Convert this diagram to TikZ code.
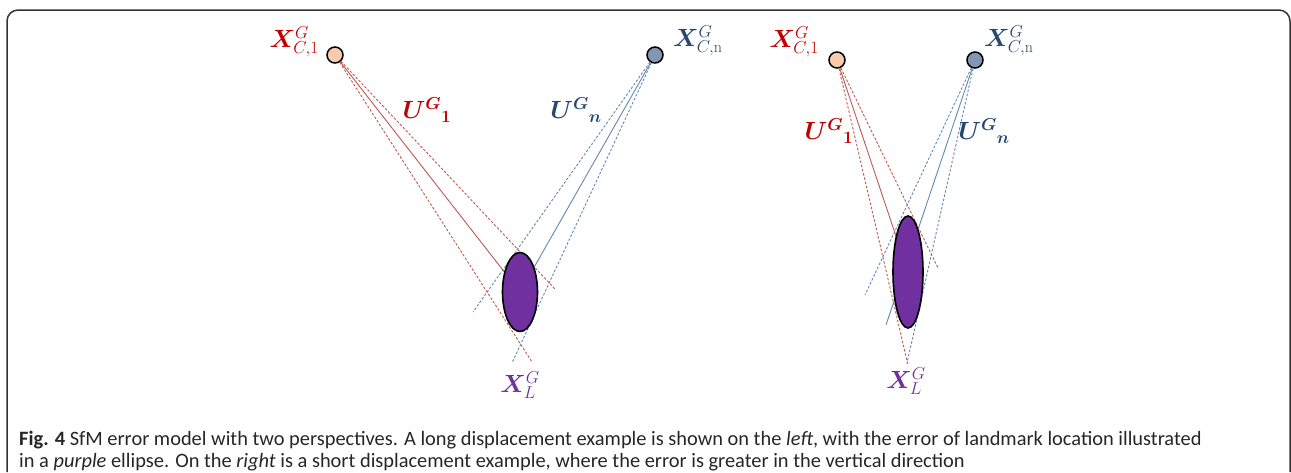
\documentclass[tikz,border=0pt]{standalone}
\usepackage{amsmath,amssymb}
\usepackage{bm}
\usepackage{fontspec}
\newfontfamily\capfont{Carlito}
\usetikzlibrary{shapes.geometric}
\definecolor{camred}{RGB}{192,0,0}
\definecolor{camblue}{RGB}{38,72,112}
\definecolor{lmpurple}{RGB}{112,48,160}
\definecolor{redray}{RGB}{192,88,80}
\definecolor{blueray}{RGB}{100,135,175}
\definecolor{peach}{RGB}{248,203,173}
\definecolor{slate}{RGB}{132,151,176}
\tikzset{
  camera/.style={circle, draw=black, line width=1.5pt, minimum size=16pt, inner sep=0pt},
  landmark/.style={ellipse, draw=black, line width=1.6pt, fill=lmpurple, inner sep=0pt},
  ray/.style={line width=0.9pt},
  dashray/.style={line width=0.9pt, dash pattern=on 2.5pt off 1.8pt},
  mathlabel/.style={font=\fontsize{23}{26}\selectfont, inner sep=0pt},
  caption/.style={font=\capfont\fontsize{20.4}{24}\selectfont, inner sep=0pt, text=black!85}
}

\begin{document}
\begin{tikzpicture}[x=1pt, y=-1pt]
    \useasboundingbox (0,0) rectangle (1291,472);

    % Frame
    \draw[line width=1.5pt, black!80, rounded corners=11pt] (7,472) -- (7,10) -- (1290,10) -- (1290,472);

    % Left: long displacement
    \node[camera, fill=peach] (camA1) at (335,55) {};
    \node[camera, fill=slate] (camAn) at (655,55) {};
    \coordinate (lmA) at (520,292);
    \coordinate (rdA1) at (532,362);
    \coordinate (rdA2) at (555,289);
    \coordinate (bdA1) at (473,312);
    \coordinate (bdA2) at (512,363);

    \draw[dashray, redray] (camA1) -- (rdA1);
    \draw[dashray, redray] (camA1) -- (rdA2);
    \draw[dashray, blueray] (camAn) -- (bdA1);
    \draw[dashray, blueray] (camAn) -- (bdA2);
    \draw[ray, redray] (camA1) -- (lmA);
    \draw[ray, blueray] (camAn) -- (lmA);
    \node[landmark, minimum width=35pt, minimum height=79pt] (ellA) at (lmA) {};

    \node[mathlabel, text=camred, anchor=east] (labA1) at (319,42) {$\bm{X}^{G}_{C,1}$};
    \node[mathlabel, text=camblue, anchor=west] (labAn) at (673,41) {$\bm{X}^{G}_{C,\mathrm{n}}$};
    \node[mathlabel, text=camred] (uA1) at (427,110) {$\bm{U}^{\bm{G}}{}_{\bm{1}}$};
    \node[mathlabel, text=camblue] (uAn) at (576,110) {$\bm{U}^{\bm{G}}{}_{\bm{n}}$};
    \node[mathlabel, text=lmpurple] (labAL) at (520,385) {$\bm{X}^{G}_{L}$};

    % Right: short displacement
    \node[camera, fill=peach] (camB1) at (837,60) {};
    \node[camera, fill=slate] (camBn) at (975,60) {};
    \coordinate (lmB) at (908,272);
    \coordinate (rdB1) at (908,365);
    \coordinate (rdB2) at (938,268);
    \coordinate (bdB1) at (865,295);
    \coordinate (bdB2) at (907,363);
    \coordinate (bsB) at (886,325);

    \draw[dashray, redray] (camB1) -- (rdB1);
    \draw[dashray, redray] (camB1) -- (rdB2);
    \draw[dashray, blueray] (camBn) -- (bdB1);
    \draw[dashray, blueray] (camBn) -- (bdB2);
    \draw[ray, redray] (camB1) -- (lmB);
    \draw[ray, blueray] (camBn) -- (bsB);
    \node[landmark, minimum width=30pt, minimum height=112pt] (ellB) at (lmB) {};

    \node[mathlabel, text=camred, anchor=east] (labB1) at (819,42) {$\bm{X}^{G}_{C,1}$};
    \node[mathlabel, text=camblue, anchor=west] (labBn) at (984,41) {$\bm{X}^{G}_{C,\mathrm{n}}$};
    \node[mathlabel, text=camred] (uB1) at (829,131) {$\bm{U}^{\bm{G}}{}_{\bm{1}}$};
    \node[mathlabel, text=camblue] (uBn) at (984,131) {$\bm{U}^{\bm{G}}{}_{\bm{n}}$};
    \node[mathlabel, text=lmpurple] (labBL) at (906,381) {$\bm{X}^{G}_{L}$};

    % Caption
    \node[caption, anchor=base west] (capA) at (19,445) {\textbf{Fig. 4} SfM error model with two perspectives. A long displacement example is shown on the \textit{left}, with the error of landmark location illustrated};
    \node[caption, anchor=base west] (capB) at (19,467) {in a \textit{purple} ellipse. On the \textit{right} is a short displacement example, where the error is greater in the vertical direction};
\end{tikzpicture}
\end{document}
